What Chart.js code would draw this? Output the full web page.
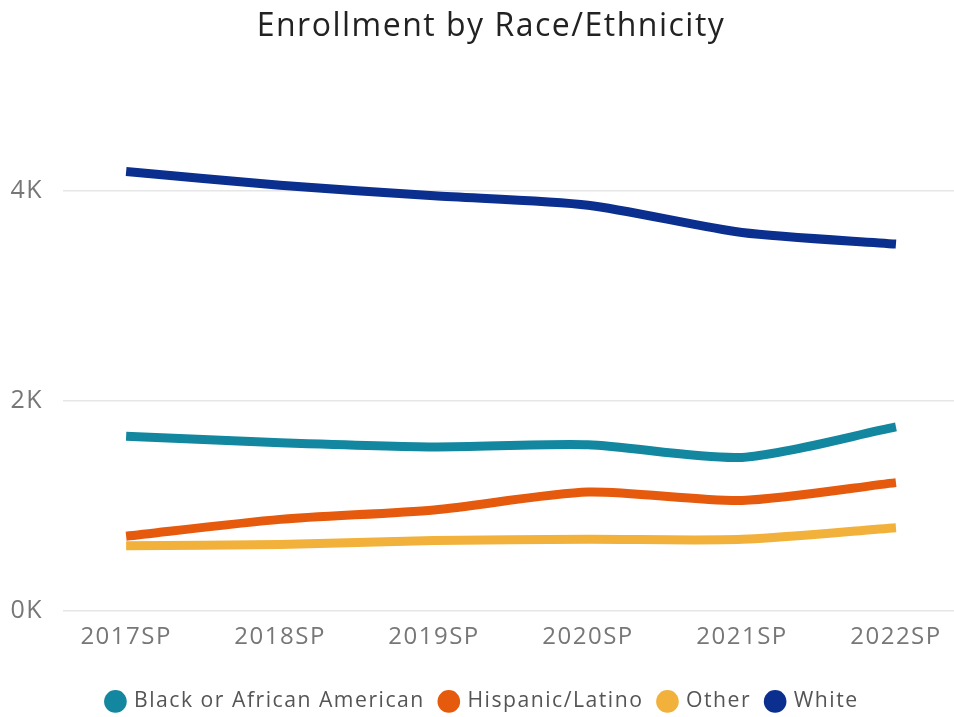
<!DOCTYPE html>
<html>
<head>
<meta charset="utf-8">
<title>Enrollment by Race/Ethnicity</title>
<script src="https://cdn.jsdelivr.net/npm/chart.js@4.4.1/dist/chart.umd.min.js"></script>
<style>
  html, body { margin: 0; padding: 0; background: #fff; }
  #wrap { width: 954px; height: 717px; }
</style>
</head>
<body>
<div id="wrap"><canvas id="enrollChart"></canvas></div>
<script>
// Spring terms on the x axis
const terms = ["2017SP", "2018SP", "2019SP", "2020SP", "2021SP", "2022SP"];

// Headcount per group
const black = [1660, 1600, 1560, 1580, 1460, 1750];
const hispanic = [710, 870, 960, 1130, 1050, 1220];
const other = [620, 630, 670, 680, 680, 790];
const white = [4180, 4050, 3950, 3860, 3600, 3490];

const yTicks = [0, 2000, 4000];

const toPoints = arr => arr.map((v, i) => ({ x: i, y: v }));

// Wider text tracking; the canvas state is reset on resize, so set it before layout and draw
const tracking = {
    id: "tracking",
    beforeUpdate: chart => { chart.ctx.letterSpacing = "1.5px"; },
    beforeDraw: chart => { chart.ctx.letterSpacing = "1.5px"; }
};

// Title and legend sit a little right of the canvas centre
const blockShift = {
    id: "blockShift",
    afterLayout: chart => {
        const t = chart.titleBlock;
        if (t) { t.left += 14; t.right += 14; }
        const l = chart.legend;
        if (l) { l.left += 6; l.right += 6; }
    }
};

document.addEventListener("DOMContentLoaded", () => {
    const ctx = document.getElementById("enrollChart").getContext("2d");
    const font = "'Open Sans', sans-serif";

    const series = (label, data, color) => ({
        label: label,
        data: toPoints(data),
        borderColor: color,
        backgroundColor: color,
        borderWidth: 9,
        borderCapStyle: "butt",
        tension: 0.25,
        pointRadius: 0,
        fill: false
    });

    new Chart(ctx, {
        type: "line",
        data: {
            datasets: [
                series("Black or African American", black, "#13879f"),
                series("Hispanic/Latino", hispanic, "#e55a0c"),
                series("Other", other, "#f1b13a"),
                series("White", white, "#0b2f8f")
            ]
        },
        plugins: [tracking, blockShift],
        options: {
            responsive: true,
            maintainAspectRatio: false,
            animation: false,
            layout: { padding: { left: 0, right: 0, top: 0, bottom: -5 } },
            plugins: {
                title: {
                    display: true,
                    text: "Enrollment by Race/Ethnicity",
                    color: "#222",
                    font: { family: font, size: 32, weight: "normal" },
                    padding: { top: 8, bottom: 39 }
                },
                legend: {
                    position: "bottom",
                    labels: {
                        usePointStyle: true,
                        pointStyle: "circle",
                        boxWidth: 16,
                        boxHeight: 16,
                        padding: 16,
                        color: "#555",
                        font: { family: font, size: 21.2 },
                        generateLabels: chart =>
                            Chart.defaults.plugins.legend.labels.generateLabels(chart)
                                .map(item => ({ ...item, lineWidth: 0 }))
                    }
                },
                tooltip: { enabled: false }
            },
            scales: {
                x: {
                    type: "linear",
                    min: -0.41,
                    max: 5.377,
                    afterBuildTicks: scale => {
                        scale.ticks = terms.map((t, i) => ({ value: i }));
                    },
                    afterFit: scale => { scale.height = 64; },
                    ticks: {
                        color: "#777",
                        font: { family: font, size: 24 },
                        maxRotation: 0,
                        padding: 4,
                        callback: value => terms[value]
                    },
                    grid: { display: false },
                    border: { display: false }
                },
                y: {
                    min: 0,
                    max: 5000,
                    afterBuildTicks: scale => {
                        scale.ticks = yTicks.map(v => ({ value: v }));
                    },
                    afterFit: scale => { scale.width = 63; },
                    ticks: {
                        color: "#777",
                        font: { family: font, size: 25 },
                        padding: 20,
                        callback: value => (value / 1000) + "K"
                    },
                    grid: { color: "#e6e6e6", lineWidth: 1.5, drawTicks: false },
                    border: { display: false }
                }
            }
        }
    });
});
</script>
</body>
</html>
